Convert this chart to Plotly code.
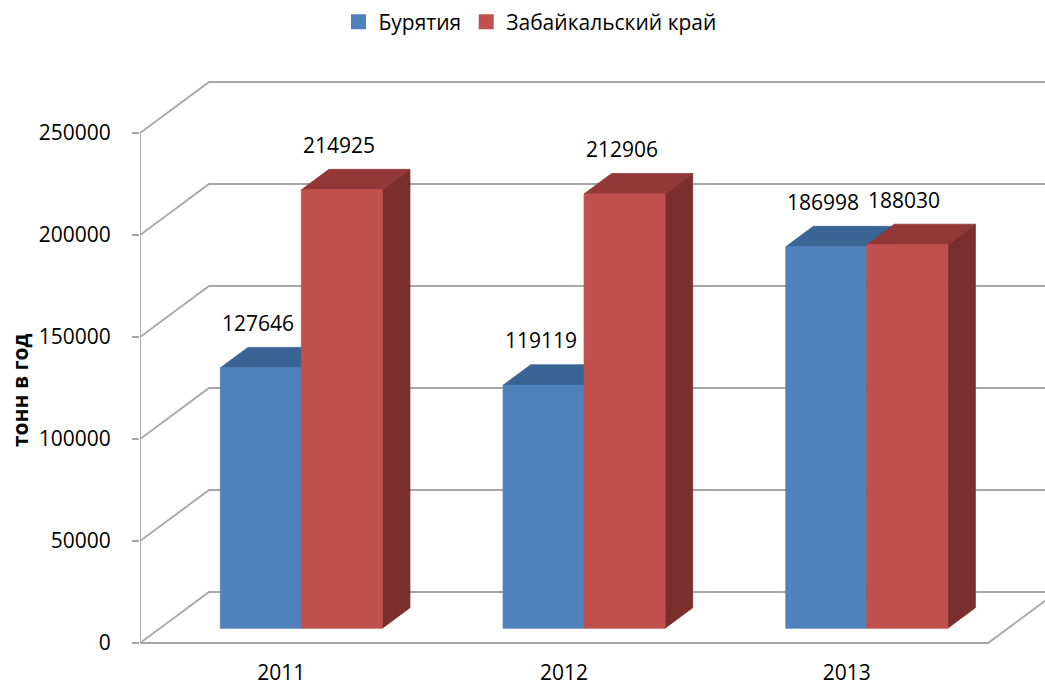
import plotly.graph_objects as go

# ---------------- data ----------------
categories = ["2011", "2012", "2013"]
series_names = ["Бурятия", "Забайкальский край"]
buryatia = [127646, 119119, 186998]
zabaikalsky = [214925, 212906, 188030]
y_ticks = [0, 50000, 100000, 150000, 200000, 250000]
y_title = "тонн в год"

# ---------------- styles ----------------
front_colors = ["#4F81BD", "#C0504D"]
top_colors = ["#3A6494", "#923836"]
side_colors = ["#2E4F76", "#7A2F2D"]
grid_color = "#a6a6a6"
FONT = "Open Sans"

# ---------------- geometry ----------------
W, H = 1045, 683
ML, MR, MT, MB = 140, 0, 50, 27
plot_w = W - ML - MR
SLOT_PX = 282.7                 # width of a category slot (front plane)
PX_PER_VAL = 510 / 250000       # vertical pixels per value unit
ZERO_PX = 643                   # screen y of value 0 on the front plane
DX = 69 / SLOT_PX               # depth offset (x, in slot units)
DY = 51 / PX_PER_VAL            # depth offset (y, in value units)
x_range = [0, plot_w / SLOT_PX]
y_range = [-(H - MB - ZERO_PX) / PX_PER_VAL, (ZERO_PX - MT) / PX_PER_VAL]

BAR_W = 0.2865                  # bar width in slot units
GAP = (1 - 2 * BAR_W) / 2
D0, D1 = 0.29, 0.69             # bar depth (front/back) as fraction of floor depth


def P(x, v, d):
    return x + d * DX, v + d * DY


fig = go.Figure()

# ---- walls / floor / gridlines ----
gx, gy = [], []
for v in y_ticks:
    for (x, y) in [P(0, v, 0), P(0, v, 1), P(x_range[1] + 1, v, 1)]:
        gx.append(x); gy.append(y)
    gx.append(None); gy.append(None)
# front vertical axis line
for (x, y) in [P(0, 0, 0), P(0, y_ticks[-1], 0)]:
    gx.append(x); gy.append(y)
gx.append(None); gy.append(None)
# front floor edge and right floor diagonal
n = len(categories)
for (x, y) in [P(0, 0, 0), P(n, 0, 0), P(n, 0, 1)]:
    gx.append(x); gy.append(y)

fig.add_trace(go.Scatter(x=gx, y=gy, mode="lines",
                         line=dict(color=grid_color, width=1.8),
                         hoverinfo="skip", showlegend=False))

# ---- 3D bars ----
series_vals = [buryatia, zabaikalsky]
annotations = []
for i, cat in enumerate(categories):
    for s, vals in enumerate(series_vals):
        val = vals[i]
        xl = i + GAP + s * BAR_W
        xr = xl + BAR_W
        faces = [
            ([P(xr, 0, D0), P(xr, 0, D1), P(xr, val, D1), P(xr, val, D0)], side_colors[s]),
            ([P(xl, val, D0), P(xr, val, D0), P(xr, val, D1), P(xl, val, D1)], top_colors[s]),
            ([P(xl, 0, D0), P(xr, 0, D0), P(xr, val, D0), P(xl, val, D0)], front_colors[s]),
        ]
        for pts, col in faces:
            xs = [p[0] for p in pts] + [pts[0][0]]
            ys = [p[1] for p in pts] + [pts[0][1]]
            fig.add_trace(go.Scatter(x=xs, y=ys, mode="lines", fill="toself",
                                     fillcolor=col, line=dict(color=col, width=0.8),
                                     hoverinfo="skip", showlegend=False))
        cx, cy = P((xl + xr) / 2, val, D0)
        annotations.append(dict(x=cx, y=cy, xref="x", yref="y", text=str(val),
                                showarrow=False, yshift=45, xshift=-3,
                                font=dict(family=FONT, size=21, color="black")))

# legend entries
for s, name in enumerate(series_names):
    fig.add_trace(go.Scatter(x=[None], y=[None], mode="markers", name=name,
                             marker=dict(symbol="square", size=15, color=front_colors[s])))

annotations.append(dict(x=(20 - ML) / plot_w, xref="paper", xanchor="center",
                        y=(ZERO_PX - 390) / PX_PER_VAL, yref="y", yanchor="middle",
                        text="<b>" + y_title + "</b>", textangle=-90, showarrow=False,
                        font=dict(family=FONT, size=21, color="black")))

fig.update_layout(
    width=W, height=H, autosize=False,
    margin=dict(l=ML, r=MR, t=MT, b=MB, pad=0, autoexpand=False),
    paper_bgcolor="white", plot_bgcolor="white",
    font=dict(family=FONT, size=21, color="black"),
    showlegend=True,
    legend=dict(orientation="h", xref="container", yref="container",
                x=530 / W, xanchor="center", y=1 - 22 / H, yanchor="middle",
                font=dict(family=FONT, size=21, color="black"),
                itemclick=False, itemdoubleclick=False),
    annotations=annotations,
    xaxis=dict(range=x_range, showgrid=False, zeroline=False, showline=False,
               automargin=False,
               tickmode="array", tickvals=[i + 0.5 for i in range(n)], ticktext=categories,
               ticks="", ticklabelstandoff=2,
               tickfont=dict(family=FONT, size=21, color="black"), fixedrange=True),
    yaxis=dict(range=y_range, showgrid=False, zeroline=False, showline=False,
               automargin=False,
               tickmode="array", tickvals=y_ticks, ticktext=[str(v) for v in y_ticks],
               ticks="outside", ticklen=7, tickcolor=grid_color, tickwidth=1.8,
               ticklabelstandoff=17,
               tickfont=dict(family=FONT, size=21, color="black"), fixedrange=True),
)

fig.write_html("out.html", config={"displayModeBar": False},
               post_script="document.body.style.margin='0';document.body.style.padding='0';")
